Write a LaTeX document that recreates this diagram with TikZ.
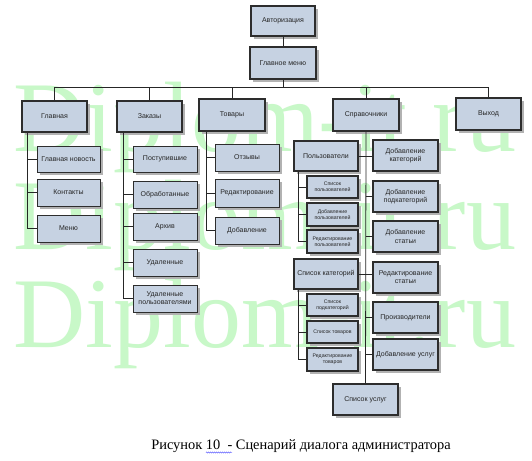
\documentclass[tikz,border=0pt]{standalone}
\usepackage{fontspec}
\setmainfont{Liberation Serif}
\setsansfont{Liberation Sans}
\usetikzlibrary{shadows,decorations.pathmorphing}
\definecolor{boxfill}{RGB}{198,210,226}
\definecolor{boxline}{RGB}{45,45,45}
\definecolor{shade}{RGB}{178,178,178}
\definecolor{wm}{RGB}{200,248,200}
\newcommand{\mybox}[7]{\node[bx,#6,minimum width={(#4-#2)*1pt},minimum height={(#5-#3)*1pt}] (#1) at ({(#2+#4)/2},{(#3+#5)/2}) {#7};}
\tikzset{
  bx/.style={draw=boxline, fill=boxfill, line width=1.4pt, inner sep=0pt, align=center,
    font=\sffamily\fontsize{7}{8.2}\selectfont, text=black!85,
    drop shadow={shadow xshift=3pt, shadow yshift=-3pt, fill=shade, opacity=1}},
  thin/.style={line width=0.9pt},
  small/.style={line width=1.1pt, font=\sffamily\fontsize{5.2}{6.1}\selectfont},
  conn/.style={draw=black!85, line width=0.8pt},
  wmk/.style={font=\rmfamily\fontsize{100}{100}\selectfont, text=wm, inner sep=0pt}
}
\begin{document}
\begin{tikzpicture}[x=1pt,y=-1pt]
\fill[white] (0,0) rectangle (532,460);
\useasboundingbox (0,0) rectangle (532,460);
% watermark
\node[wmk, anchor=base west] (w1) at (13,151) {Diplom-it.ru};
\node[wmk, anchor=base west] (w2) at (13,249) {Diplom-it.ru};
\node[wmk, anchor=base west] (w3) at (13,347) {Diplom-it.ru};
% top
\mybox{auth}{251}{6}{315}{36}{}{Авторизация}
\mybox{menu}{250}{47}{316}{79}{}{Главное меню}
\mybox{glav}{22}{101}{87}{132}{}{Главная}
\mybox{zak}{117}{101}{182}{132}{}{Заказы}
\mybox{tov}{199}{99}{265}{131}{}{Товары}
\mybox{spr}{333}{99}{399}{131}{}{Справочники}
\mybox{vyh}{456}{98}{521}{130}{}{Выход}
% Главная
\mybox{gn}{37}{146}{100}{172}{thin}{Главная новость}
\mybox{kon}{37}{179}{100}{206}{thin}{Контакты}
\mybox{men}{37}{215}{100}{242}{thin}{Меню}
% Заказы
\mybox{pos}{133}{146}{197}{172}{thin}{Поступившие}
\mybox{obr}{133}{181}{197}{208}{thin}{Обработанные}
\mybox{arh}{133}{213}{197}{240}{thin}{Архив}
\mybox{udl}{133}{249}{197}{276}{thin}{Удаленные}
\mybox{udp}{133}{285}{197}{312}{thin}{Удаленные\\пользователями}
% Товары
\mybox{otz}{215}{144}{279}{171}{thin}{Отзывы}
\mybox{red}{215}{179}{279}{207}{thin}{Редактирование}
\mybox{dob}{215}{217}{279}{244}{thin}{Добавление}
% Справочники left
\mybox{pol}{294}{141}{358}{171}{}{Пользователи}
\mybox{sp1}{307}{176}{358}{198}{small}{Список\\пользователей}
\mybox{sp2}{307}{203}{358}{226}{small}{Добавление\\пользователей}
\mybox{sp3}{307}{230}{358}{253}{small}{Редактирование\\пользователей}
\mybox{sk}{294}{259}{358}{289}{}{Список категорий}
\mybox{sc1}{307}{294}{358}{316}{small}{Список\\подкатегорий}
\mybox{sc2}{307}{321}{358}{343}{small}{Список товаров}
\mybox{sc3}{307}{348}{358}{371}{small}{Редактирование\\товаров}
% Справочники right
\mybox{dk}{373}{140}{438}{171}{}{Добавление\\категорий}
\mybox{dp}{373}{181}{438}{212}{}{Добавление\\подкатегорий}
\mybox{ds}{373}{221}{438}{252}{}{Добавление\\статьи}
\mybox{rs}{373}{262}{438}{293}{}{Редактирование\\статьи}
\mybox{pr}{373}{302}{438}{333}{}{Производители}
\mybox{du}{373}{339}{438}{370}{}{Добавление услуг}
\mybox{su}{333}{384}{398}{415}{}{Список услуг}
% connectors
\coordinate (bar) at (0,87);
\draw[conn] (auth.south) -- (menu.north);
\draw[conn] (menu.south) -- (menu.south |- bar);
\draw[conn] (glav.north |- bar) -- (vyh.north |- bar);
\foreach \n in {glav,zak,tov,spr,vyh}{\draw[conn] (\n.north) -- (\n.north |- bar);}
% Главная children
\coordinate (gv) at ([xshift=6pt]glav.south west);
\draw[conn] (gv) -- (gv |- men.west) -- (men.west);
\foreach \n in {gn,kon}{\draw[conn] (\n.west) -- (\n.west -| gv);}
% Заказы children
\coordinate (zv) at ([xshift=7pt]zak.south west);
\draw[conn] (zv) -- (zv |- udp.west) -- (udp.west);
\foreach \n in {pos,obr,arh,udl}{\draw[conn] (\n.west) -- (\n.west -| zv);}
% Товары children
\coordinate (tv) at ([xshift=8pt]tov.south west);
\draw[conn] (tv) -- (tv |- dob.west) -- (dob.west);
\foreach \n in {otz,red}{\draw[conn] (\n.west) -- (\n.west -| tv);}
% Пользователи children
\coordinate (pv) at ([xshift=5pt]pol.south west);
\draw[conn] (pv) -- (pv |- sp3.west) -- (sp3.west);
\foreach \n in {sp1,sp2}{\draw[conn] (\n.west) -- (\n.west -| pv);}
% Список категорий children
\coordinate (kv) at ([xshift=5pt]sk.south west);
\draw[conn] (kv) -- (kv |- sc3.west) -- (sc3.west);
\foreach \n in {sc1,sc2}{\draw[conn] (\n.west) -- (\n.west -| kv);}
% Справочники trunk
\draw[conn] (spr.south) -- (su.north);
\draw[conn] (pol.east) -- (pol.east -| dk.west);
\draw[conn] (sk.east) -- (sk.east -| rs.west);
\foreach \n in {dp,ds,pr,du}{\draw[conn] (\n.west) -- (\n.west -| spr.south);}
% caption
\node[font=\rmfamily\fontsize{14.4}{16}\selectfont, anchor=base, inner sep=0pt] (cap) at (301,449) {Рисунок 10\ \ - Сценарий диалога администратора};
\coordinate (wv1) at (206,452.5);
\coordinate (wv2) at (232,452.5);
\draw[blue!70, line width=0.4pt, decorate, decoration={snake, amplitude=0.6pt, segment length=2pt}] (wv1) -- (wv2);
\end{tikzpicture}
\end{document}
